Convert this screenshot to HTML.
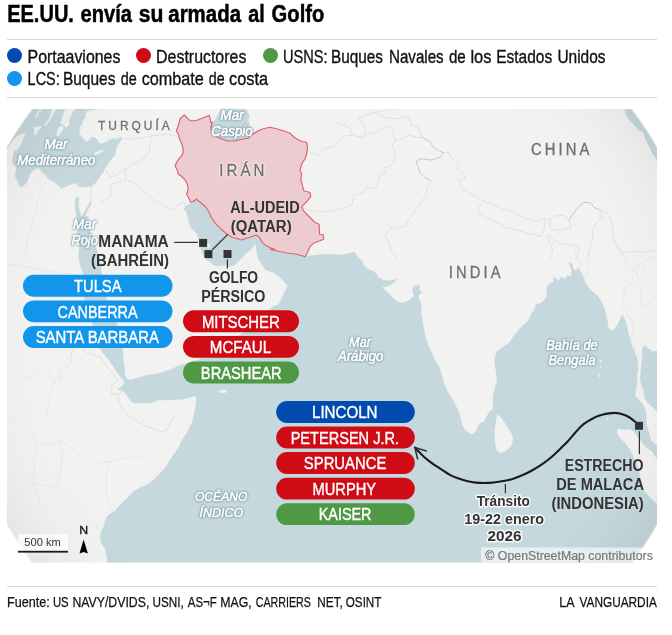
<!DOCTYPE html>
<html lang="es">
<head>
<meta charset="utf-8">
<title>EE.UU. envía su armada al Golfo</title>
<style>
html,body{margin:0;padding:0;background:#fff;}
body{width:672px;height:635px;position:relative;overflow:hidden;font-family:"Liberation Sans",sans-serif;color:#111;}
.hr{position:absolute;left:7px;width:650px;height:1px;background:#d9d9d9;}
.dot{position:absolute;width:15px;height:15px;border-radius:50%;}
svg{position:absolute;left:0;top:0;}
svg text{font-family:"Liberation Sans",sans-serif;}
</style>
</head>
<body>
<div class="hr" style="top:39px"></div>
<div class="dot" style="left:7px;top:48px;background:#004bad"></div><div class="dot" style="left:136.3px;top:48px;background:#cf0b16"></div><div class="dot" style="left:262.7px;top:48px;background:#509944"></div><div class="dot" style="left:7px;top:70.6px;background:#1296eb"></div>
<div class="hr" style="top:97px"></div>
<svg width="672" height="635" viewBox="0 0 672 635" role="img" aria-label="Mapa: EE.UU. envía su armada al Golfo">
<defs>
<clipPath id="mapclip"><rect x="7" y="109" width="650" height="453.5"/></clipPath>
<clipPath id="globe"><circle cx="332" cy="336" r="376"/></clipPath>
<radialGradient id="shade" gradientUnits="userSpaceOnUse" cx="332" cy="336" r="376">
<stop offset="0" stop-color="#000" stop-opacity="0"/>
<stop offset="0.75" stop-color="#000" stop-opacity="0"/>
<stop offset="0.86" stop-color="#000" stop-opacity="0.009"/>
<stop offset="0.94" stop-color="#000" stop-opacity="0.03"/>
<stop offset="1" stop-color="#000" stop-opacity="0.055"/>
</radialGradient>
<radialGradient id="edge" gradientUnits="userSpaceOnUse" cx="332" cy="336" r="376">
<stop offset="0" stop-color="#fff" stop-opacity="0"/>
<stop offset="0.995" stop-color="#fff" stop-opacity="0"/>
<stop offset="1" stop-color="#fff" stop-opacity="0.35"/>
</radialGradient>
<style>
.h1{font-weight:bold;fill:#000;stroke:#000;stroke-width:.5px}
.lg{fill:#111;stroke:#111;stroke-width:.35px}
.ft{fill:#111;stroke:#111;stroke-width:.25px}
.sea{font-style:italic;fill:#fff;stroke:#fff;stroke-width:.7px;filter:drop-shadow(0 0 .6px #5f8390) drop-shadow(0 0 .9px rgba(95,131,144,.9))}
.lbl{font-weight:bold;fill:#333;stroke:#fff;stroke-opacity:.12;stroke-width:1.4px;paint-order:stroke;stroke-linejoin:round}
.tr{font-weight:bold;fill:#333;stroke:#fff;stroke-opacity:.85;stroke-width:3.1px;paint-order:stroke;stroke-linejoin:round}
.pl{fill:#fff;stroke:#fff;stroke-width:.4px}
.cty{fill:#736e6e;stroke:#736e6e;stroke-width:.3px}
</style>
</defs>
<g clip-path="url(#mapclip)"><g clip-path="url(#globe)">
<rect x="0" y="100" width="672" height="470" fill="#f2f2f0"/>
<g fill="#c5d8de" stroke="#c5d8de" stroke-width="0.4" stroke-linejoin="round">
<path d="M5,150 L5,105 L31,105 L98.7,105 L98.7,109 L93.7,109.8 L89.1,110.2 L87,111 L85.3,113.5 L84.5,116 L86.2,116.4 L83.7,118.5 L82.8,121 L82,123.5 L80.8,125.6 L79.1,126.4 L80.3,128.5 L79.1,131 L79.5,133.5 L78.3,135.2 L80.8,135.6 L82.8,137.7 L84.1,140.2 L86.2,141.8 L88.4,140.9 L90.5,137.9 L93,137.1 L95.5,137.9 L97.2,140 L98.4,142.5 L99.7,143.7 L103,143.3 L106.3,141.7 L109.7,140 L113,138.3 L116.3,139.2 L118.8,137.9 L121.8,137.1 L121.3,139.6 L119.3,142.5 L117.2,145.8 L115.9,148.8 L115.5,152.5 L114.7,155.8 L112.2,158.3 L110.1,160.8 L108,163.8 L105.7,167.5 L104,170.8 L102.5,173 L100,176.7 L97,180.8 L94.5,184 L91.6,186.3 L88.7,186.7 L85.3,187.1 L81.2,187.5 L80.3,186.3 L78.7,186.7 L77.8,185 L76.6,183.3 L74.5,182.9 L71.2,184.2 L67.8,185.4 L64.5,187.1 L61.6,187.9 L59.5,186.3 L57,184.2 L54.5,182.1 L52,180.8 L50.7,180 L47.3,178.8 L46.5,175.8 L44,174.2 L41.5,171.7 L40.7,169 L38.2,168.2 L34.8,169.2 L31.9,171.3 L29.8,174.2 L28.6,177.5 L27.3,181.3 L25.3,184.2 L22.8,186.3 L20.7,187.1 L19.4,185.8 L18.6,182.5 L16.5,179.2 L15,175.8 L15.7,172.5 L16.5,169.2 L15.7,165.8 L13.2,164.2 L12.3,160.8 L12.8,157.5 L13.6,153.3 L14.8,150 L16.5,151 L20.7,145.2 L23.2,139.3 L26.1,133.1 L22,133.3 L17.3,135.5 L12,141.5 L8,147.5Z"/>
<path d="M220.8,109 L218.3,114 L215.8,119 L212.5,122.3 L210.8,127.3 L211.7,132.3 L216.7,136.5 L221.7,139 L227.5,141 L235,140.7 L243.3,139 L248.3,138.2 L250,135.7 L253.3,133.2 L252.5,129 L250,125.7 L248.3,120.7 L249.2,115.7 L247.5,112.3 L245.8,109Z"/>
<path d="M624.6,108 L632,105 L660,140 L657,160 L655,157 L652.5,153.2 L649.2,146.5 L645.9,139.8 L643.3,131.8 L638.6,130.2 L634.2,124.8 L629.2,119.8 L626,114.5Z"/>
<path d="M107.5,566 L107.5,561.8 L106.7,556 L105.8,550.2 L103.3,546 L100.8,541.8 L100.3,536 L101.7,531 L104.2,526 L105,521 L106.7,516.8 L110.8,513.5 L114.2,511.8 L118.3,506.8 L123.3,501.8 L128.3,496.8 L133.3,491.8 L138.3,488.5 L145,485.7 L150,482.7 L155,478.5 L160,473.5 L165,467.7 L168.3,462.7 L172.5,456 L178.3,448.3 L180.8,443.3 L183.3,438.3 L186.7,433.3 L189.2,428.3 L191.7,423.3 L193.3,418.3 L194.2,413.3 L195,410 L195.8,405 L196.3,398.3 L195,395.8 L190,397.5 L183.3,399.2 L175,399.7 L165,400 L156.7,400 L156.7,400.8 L151.7,403 L145,402.5 L138.3,403.3 L133.3,403 L130,400 L127.5,395.8 L125,392.5 L122.5,390.8 L117.5,389.2 L121.7,386.7 L124.2,383.3 L123.3,379.2 L120.8,377.5 L116.7,371.7 L112.5,365 L108.3,359.2 L103.3,353.3 L99.2,348 L92.7,324.5 L88,311 L84.4,298.5 L83,286 L83.5,274.2 L80.2,265 L78.5,256.7 L79.3,250 L78.5,240 L77.4,233.3 L77.1,223.3 L76.9,218.3 L76.5,215 L75.7,210.8 L74.9,206.7 L75.3,202.5 L75.9,198 L77.3,196.6 L78.8,197.5 L78.7,201.7 L78.4,205 L79.2,209.2 L80.3,213.3 L81.4,216.4 L81.9,216.6 L90.1,202 L91.4,202.8 L84.6,216.7 L88.2,216.3 L88.6,219.2 L89,223.3 L89.8,229.2 L90.7,233.3 L92.3,235.4 L93.2,238.3 L95.2,245 L97.7,253.3 L100.2,263.3 L101.8,274.2 L104,286 L106.4,298.5 L111.5,311 L117.1,324.5 L122,348 L123,355 L123.7,363.3 L124.7,370 L125,375.8 L126.7,379.2 L131.7,380 L138.3,377.5 L145,375.8 L153.3,374.2 L156.7,374.2 L163.3,371.7 L170,370 L175,367.5 L180,365 L183.3,364.2 L198,360 L222,347 L241,334.3 L257,322 L270,310 L271.7,307.5 L275,305.8 L278.3,305 L280.8,300 L283.3,295 L285.8,290 L287.5,285.8 L283.3,280.8 L278.3,275.8 L273.3,272.5 L265.8,270 L264.7,268.3 L261.3,263.3 L258,258.3 L257.2,253.3 L256.3,248.3 L255.5,243.3 L253.8,245.8 L251.3,249.2 L246.3,253.3 L241.3,258.3 L238,261.7 L234.7,265 L229.7,266.7 L224.7,265.3 L219.7,265.8 L214.7,265.8 L211.3,263.3 L207.2,260 L203.8,255.8 L201.3,250.8 L199.7,245 L198.8,238.3 L196.3,233.3 L193,230 L190.5,226.7 L188.8,221.7 L188,216.7 L186.3,211.7 L183.8,209.2 L186.3,205.8 L189.7,204.2 L193,201.7 L197.2,200 L200.5,202.5 L205.5,206.7 L208.8,211.7 L211.3,217.5 L215.5,223.3 L221.3,229.2 L227.2,234.2 L232.2,237.5 L236.3,238.3 L241.3,240 L246.3,238.3 L251.3,236.7 L256.3,235 L259.7,237.5 L261.3,240.8 L264.7,245 L269.7,247.5 L274.7,249.2 L270,249.2 L278.3,251.3 L286.7,253 L296.7,254.2 L305.3,256.7 L310,255.8 L318.3,255 L326.7,254.2 L331.7,254.2 L338.3,255 L345,254.2 L353.3,252.5 L355,252.5 L357.5,256.7 L361.7,260.8 L364.2,265.8 L368.3,269.2 L372.5,270.8 L375.8,273.3 L378.3,277.5 L383.3,280.3 L390,280.8 L394.2,279.7 L396.7,278.3 L394.2,282.5 L390,285.3 L385,286.7 L381.7,286.3 L385.8,290.8 L390,295 L394.2,299.2 L398.3,302.5 L403.3,303 L408.3,300.8 L411.7,298.3 L414.2,295 L412.5,291.7 L413.3,287.5 L414.2,285.8 L419.7,285.8 L419.2,290 L422.5,292.5 L419.2,294.2 L418.3,297.5 L420.8,302.5 L421.3,308.3 L420.8,313.3 L422.5,320 L423.3,326.7 L425,335 L426.7,341.7 L426.7,340 L428.3,345.8 L431.7,353.3 L435,360 L439.2,367.5 L441.7,375 L444.2,383.3 L446.7,390 L450.8,396.7 L455,404.2 L458.3,410.8 L460.8,418.3 L461.7,424.2 L465,430 L469.2,433.3 L472,434.7 L475.8,431.7 L477.5,427.5 L480,423.3 L484.2,421.7 L486.7,416.7 L489.2,411.7 L492.5,410 L493.3,403.3 L493,396.7 L495,388.3 L497,380 L496.3,373.3 L495,365 L494.7,358.3 L496.7,351.7 L498.3,350.8 L504.2,345.8 L509.2,343.3 L513.3,336.7 L520,328.3 L527.5,321.7 L531.7,313.3 L535,308.3 L535.8,304.2 L540.8,303.3 L545.8,298.3 L547.5,293.3 L546.3,289.2 L548.3,285 L553.3,281.7 L554.2,276.7 L558.3,280.8 L561.7,276.7 L565,279.2 L567.5,275 L570.8,276.7 L571.7,271.7 L570,265 L568.3,262.5 L571.7,263.3 L573.3,268.3 L575.8,270.8 L578.3,267.5 L580.8,271.7 L583.3,276.7 L585,282.5 L588.3,287.5 L592.5,291.7 L597.5,295.8 L600.8,300.8 L603.3,305.8 L605.8,313.3 L607.5,321.7 L608.3,328.3 L610.8,330 L613.3,330.8 L615.8,327.5 L618.3,323.3 L620.8,318.3 L622.5,315 L625,320 L626.7,325 L628.3,333.3 L630.8,341.7 L633.3,350 L635,355.8 L633.3,346 L635,352.7 L637.5,359.3 L638.3,367.7 L636.7,376 L637.5,382.7 L635.8,389.3 L635,396 L637,397.5 L639,400 L641.1,402.5 L643.2,405 L644.4,408.3 L645.7,411.7 L646.5,415.8 L646.1,420 L646.5,425 L647.8,429.2 L649,433.3 L649.8,437.5 L651.5,440.8 L654,443.3 L656.1,445 L660,448 L660,566Z"/>
<path d="M641.7,355.8 L642.5,348.3 L645,345 L648.3,349 L653.3,351.7 L660,350 L660,414 L657,411.7 L654,408.3 L650.7,405.4 L648.2,403.3 L645.8,400 L644.5,397 L643.8,391 L641.7,386 L640,379.3 L640.8,371 L641.7,362.7 L642.5,354.3Z"/>
</g>
<g fill="#f2f2f0" stroke="#f2f2f0" stroke-width="0.4" stroke-linejoin="round">
<path d="M34.4,127.2 L39,126.8 L41.9,126 L40.7,127.7 L38.2,130.2 L36.1,134.3 L34.4,135.2 L34,131Z"/>
<path d="M40.6,108 L42,108 L36,117.7 L35,117.5Z"/>
<path d="M52,108 L57,108 L54,112.5 L52,116 L50.5,119 L48,122.5 L45,126 L44.3,125.3 L47.5,121 L50,117 L51,113.5Z"/>
<path d="M65.3,108 L75.3,108 L72.8,111.8 L71.2,115.2 L69.9,118.5 L68.7,121.8 L69.9,123.9 L67.8,126 L66.2,127.7 L64.5,126 L63.3,124.8 L61.2,123.9 L60.3,122.7 L62,120.2 L62.4,116.8 L63.7,113.5 L64.5,111Z"/>
<path d="M59.9,126.4 L62,126 L63.7,128.1 L62.8,130.6 L61.2,131.8 L59.9,134.3 L58.3,136 L56.6,135.2 L57,132.7 L57.8,130.2 L58.7,127.7Z"/>
<path d="M94.3,153.3 L96.3,152.1 L99.7,150.8 L103.4,150 L102.6,151.7 L99.7,152.9 L97.2,154.2 L95.1,155Z"/>
<path d="M219.2,390.5 L222.5,389.7 L226.7,390.8 L225.8,392.5 L221.7,393 L219.7,392Z"/>
<path d="M497.5,414.8 L500,416.5 L504.2,422.3 L508.3,429 L511.7,434.8 L512.8,439 L511.7,444.8 L508.3,449 L504.2,451.5 L500,452.8 L497,450.7 L495.8,445.7 L495,439 L494.7,433.2 L495.3,427.3 L496.3,420.7Z"/>
<path d="M616.9,430.8 L617.8,434.2 L619.8,437.5 L622.3,440 L624.8,442.5 L626.9,445 L629,448.3 L630.7,450.8 L631.9,452.9 L634,458 L637,464 L639,470 L640.5,477 L642,484 L643.1,489 L648.9,495.9 L654.6,501.6 L660,507 L660,461 L655.5,457 L652,451.8 L649.5,450 L646.5,447.8 L643.4,445 L641,441.7 L638.7,438.4 L636,435 L633.4,431.7 L631.5,430 L628.2,429.3 L624.8,430.3 L621.5,429.6 L618.6,429.2Z"/>
<path d="M206.6,243.8 L208.4,243.4 L209.8,244.6 L210,246.6 L208.8,247.6 L207.2,246.8Z"/>
<path d="M599.95,360 L600.85,360 L600.85,362.6 L599.95,362.6Z"/>
<path d="M600,367 L600.8,367 L600.8,368.4 L600,368.4Z"/>
<path d="M599.05,374 L599.95,374 L599.95,377 L599.05,377Z"/>
<path d="M606.9,418.1 L607.7,418.1 L607.7,419.9 L606.9,419.9Z"/>
<path d="M618.1,428.7 L619.3,428.7 L619.3,429.7 L618.1,429.7Z"/>
</g>
<g fill="none" stroke="#cfcfcd" stroke-width="0.5" stroke-linejoin="round">
<path d="M121.7,138.2 L125,139 L133.3,139 L143.3,137.3 L151.7,135.7 L161.7,134.8 L166.7,134 L173.3,135.7 L177.5,136.5"/>
<path d="M151.7,136.5 L150,144 L149.2,152.3 L143.3,159 L133.3,164 L126.7,168.2 L125,174 L125.8,179.8"/>
<path d="M106.7,170.7 L108.3,175.7 L111.7,177.3 L118.3,174 L126.7,168.2"/>
<path d="M125.8,179.8 L133.3,182.3 L143.3,190.7 L155,200.7 L166.7,207.3 L173.3,209.8"/>
<path d="M125.8,179.8 L116.7,182.3 L110,184.8 L112.5,192.3 L108.3,199 L100,202.3"/>
<path d="M173.3,209.8 L178.3,204 L183.3,202.3 L186.7,204"/>
<path d="M336,145 L343.5,136.2 L352.2,135 L351,128.8 L343.5,125 L336,122.5"/>
<path d="M352.2,135 L362.2,137.5 L368.5,133.8 L376,132.5 L383.5,127.5 L389.8,126.2 L393.5,132.5 L394.8,140 L401,138.8 L408.5,135 L418.5,137.5 L422.2,137.5"/>
<path d="M396,109 L386,110 L373.5,112.5 L366,115 L358.5,117.5 L363.5,125 L366,132.5 L362.2,137.5"/>
<path d="M373.5,112.5 L386,117.5 L396,118.8 L408.5,116.2 L411,125 L418.5,127.5 L422.2,137.5"/>
<path d="M394.8,140 L392.2,146.2 L396,153.8 L393.5,162.5 L391,166.2 L383.5,167.5 L386,172.5 L379.8,175 L377.2,185 L374.8,188.8 L366,187.5 L363.5,192.5 L353.5,195 L352.2,205 L343.5,208.8 L336,210"/>
<path d="M422.2,137.5 L429.8,141.2 L433.5,147.5 L439.8,151.2 L443.5,152.5 L439.8,157.5 L431,160 L421,158.8 L416,161.2 L418.5,167.5 L419.8,172.5 L424.8,177.5 L431,181.2" stroke="#b4b4b2" stroke-width="0.7"/>
<path d="M431,181.2 L427.2,187.5 L426,195 L421,202.5 L417.2,207.5 L413.5,213.8 L408.5,220 L404.8,226.2 L396,228.8 L392.2,226.2 L384.8,236.2 L388.5,242.5 L391,250 L397.2,258.8"/>
<path d="M443.5,152.5 L448.5,152.5 L452.2,158.8 L458.5,162.5 L457.2,168.8 L464.8,175 L464.8,178.8 L458.5,180 L461,186.2 L463.5,190 L471,193.8 L477.2,197.5 L483.5,201.2 L493.5,205 L503.8,210"/>
<path d="M483.5,201.2 L478.5,207.5 L478.5,213.8 L486,217.5 L496,222.5 L503.8,225"/>
<path d="M504,208.8 L514,212.5 L524,217.5 L536.5,221.2 L544,218.8 L550.2,220"/>
<path d="M504,227.5 L516.5,230 L529,233.8 L541.5,236.2 L544,230 L545.2,220"/>
<path d="M550.2,220 L554,216.2 L564,215 L569,220 L571.5,227.5 L561.5,230 L551.5,230 L550.2,225 L550.2,220"/>
<path d="M569,220 L574,212.5 L579,206.2 L584,202.5 L590.2,202.5 L594,207.5 L600.2,210" stroke="#b4b4b2" stroke-width="0.7"/>
<path d="M600.2,210 L601.5,217.5 L596.5,222.5 L592.8,230 L592.8,240 L589,250 L587.8,258.8"/>
<path d="M600.2,210 L606.5,212.5 L611.5,220 L612.8,230 L614,240 L619,250 L624,252.5 L634,251.2 L644,252.5 L651.5,250 L656.5,252.5"/>
<path d="M547.8,235 L554,240 L561.5,243.8 L574,245 L579,247.5 L577.8,255 L576.5,258.8"/>
<path d="M547.8,235 L549,242.5 L552.8,250 L550.2,258.8"/>
<path d="M44.8,181.7 L41,192 L37.3,203 L32,225 L25,250 L20,259" stroke="#d0d0ce" stroke-width="0.5" stroke-dasharray="1.6 1"/>
<path d="M7.5,264 L25,266.5 L50,271.5 L72.5,274" stroke="#d0d0ce" stroke-width="0.5" stroke-dasharray="1.6 1"/>
<path d="M72.5,351.5 L60,369 L53.8,384 L50,394 L47.5,409 L46.2,418" stroke="#d0d0ce" stroke-width="0.5" stroke-dasharray="1.6 1"/>
<path d="M25,379 L35,376.5 L42.5,366.5 L48.8,371.5 L53.8,384" stroke="#d0d0ce" stroke-width="0.5" stroke-dasharray="1.6 1"/>
<path d="M10,418 L20,425.5 L32.5,435.5 L37.5,443 L50,445.5 L60,440.5 L67.5,445.5 L80,454.2 L95,463 L110,461.8 L125,458 L140,456.8 L155,443 L167.8,430.5" stroke="#d0d0ce" stroke-width="0.5" stroke-dasharray="1.6 1"/>
<path d="M60,440.5 L62.5,453 L61.2,468 L57.5,480.5 L58.8,488" stroke="#d0d0ce" stroke-width="0.5" stroke-dasharray="1.6 1"/>
<path d="M37.5,443 L33.8,458 L35,473 L32.5,483 L37.5,493 L40,503" stroke="#d0d0ce" stroke-width="0.5" stroke-dasharray="1.6 1"/>
<path d="M110,461.8 L106.2,473 L106.2,493 L110,505.5 L113.8,513" stroke="#d0d0ce" stroke-width="0.5" stroke-dasharray="1.6 1"/>
<path d="M32.5,483 L58.8,488 L75,503 L87.5,518 L100,530.5" stroke="#d0d0ce" stroke-width="0.5" stroke-dasharray="1.6 1"/>
<path d="M574.2,250 L576.7,256.7 L575,260 L579.2,261.7 L580.8,266.7" stroke="#d0d0ce" stroke-width="0.5" stroke-dasharray="1.6 1"/>
<path d="M588.3,254.2 L586.7,260 L589.2,266.7 L587.5,273.3 L585,282.5" stroke="#d0d0ce" stroke-width="0.5" stroke-dasharray="1.6 1"/>
<path d="M620,250 L623.3,256.7 L625.8,263.3 L628.3,266.7 L633.3,268.3 L635.8,271.7 L638.3,265 L643.3,261.7 L648.3,258.3 L657,255" stroke="#d0d0ce" stroke-width="0.5" stroke-dasharray="1.6 1"/>
<path d="M633.3,268.3 L631.7,275 L633.3,281.7 L630,285 L625,288.3 L623.3,295 L624.2,301.7 L621.7,303.3 L624.2,308.3 L626.7,313.3 L630,318.3 L632.5,323.3 L633.3,330 L630.8,336.7 L633.3,343.3 L636.7,350 L638.3,355.8" stroke="#d0d0ce" stroke-width="0.5" stroke-dasharray="1.6 1"/>
<path d="M635.8,271.7 L638.3,278.3 L636.7,283.3 L640,288.3 L641.7,293.3 L640.8,300 L643.3,306.7 L648.3,303.3 L653.3,298.3 L657,296.7" stroke="#d0d0ce" stroke-width="0.5" stroke-dasharray="1.6 1"/>
<path d="M643.3,266.7 L646.7,273.3 L653.3,276.7 L657,283.3" stroke="#d0d0ce" stroke-width="0.5" stroke-dasharray="1.6 1"/>
<path d="M241.3,258.3 L248,261.7 L249.7,268.3 L246.3,276.7 L243,283.3 L246.3,290 L248,296.7" stroke="#d0d0ce" stroke-width="0.5" stroke-dasharray="1.6 1"/>
<path d="M173,211.7 L178,206.7 L183.8,202.5 L186.3,205.8" stroke="#d0d0ce" stroke-width="0.5" stroke-dasharray="1.6 1"/>
<path d="M307.7,151.5 L310,152 L312.5,152.8 L316.5,155.5 L320,154 L323,150.3 L324.2,148.6 L328,148 L332,147 L336,145"/>
<path d="M91.6,186.3 L91.2,192 L90.6,198 L90.3,202"/>
<path d="M301.7,206.7 L308.3,210 L318.3,211.7 L330,211.7 L336.7,210.3"/>
<path d="M72.5,348 L70,363.3 L61.7,371.7 L60,380"/>
<path d="M82.5,350 L88.3,353.3 L100,356.7 L108.3,368.3 L116.7,378.3 L118.3,380 L111.7,385 L111.7,394.2 L118.3,394.2 L122.5,390.8"/>
<path d="M118.3,394.2 L118.3,400 L123.3,410 L131.7,418.3 L146.7,426.7 L161.7,431.7 L166.7,430 L171.8,420 L176.7,413.3"/>
</g>
<path d="M184.2,114.8 L186.7,117.3 L190,120.7 L195.8,120.7 L200,119 L205,117.3 L209.2,115.3 L210,118.2 L210.8,122.3 L212.5,122.3 L210.8,127.3 L211.7,132.3 L216.7,136.5 L221.7,139 L227.5,141 L235,140.7 L243.3,139 L248.3,138.2 L250,135.7 L253.3,134 L258.3,130.7 L263.3,128.7 L270,127.3 L276.7,128.7 L283.3,130.7 L290,133.2 L293.3,136.5 L296.7,139 L301.7,141.5 L306.7,142.3 L307.5,147.3 L306.7,154 L305,159 L301.7,164 L300,170.7 L301.7,174 L300.8,179 L302.5,185.7 L303.7,190.7 L310,192.5 L310.8,196.7 L306.7,201.7 L301.7,206.7 L304.2,211.7 L310,217.5 L315,222.5 L319.2,224.2 L319.5,234.2 L323.3,234.7 L323.7,239.2 L320,240.8 L313.3,243.3 L310,246.7 L307.5,252.5 L305.3,256.7 L296.7,254.2 L286.7,253 L278.3,251.3 L270,249.2 L274.7,249.2 L269.7,247.5 L264.7,245 L261.3,240.8 L259.7,237.5 L256.3,235 L251.3,236.7 L246.3,238.3 L241.3,240 L236.3,238.3 L232.2,237.5 L227.2,234.2 L221.3,229.2 L215.5,223.3 L211.3,217.5 L208.8,211.7 L205.5,206.7 L200.5,202.5 L197.2,200 L196.7,199 L193.3,201.5 L190.8,202.3 L188.3,197.3 L186.7,194 L188.3,189 L187.5,184.8 L185,179.8 L181.7,176.5 L178.3,174 L177.5,170.7 L175,165.7 L177.5,160.7 L181.7,155.7 L183.3,152.3 L182.5,145.7 L179.7,139 L178.3,134 L176.3,130.7 L178.3,125.7 L180,119Z" fill="#ecccd0" stroke="#dc606e" stroke-width="1.15" stroke-linejoin="round"/>
<rect x="0" y="100" width="672" height="470" fill="url(#shade)"/>
<rect x="0" y="100" width="672" height="470" fill="url(#edge)"/>
</g>
<rect x="481" y="547.5" width="176" height="16" fill="#fff" fill-opacity="0.6"/>
<text x="485.3" y="560" font-size="12" fill="#787878" stroke="#787878" stroke-width=".2" textLength="167.5" lengthAdjust="spacingAndGlyphs">© OpenStreetMap contributors</text>
<rect x="18" y="534" width="50" height="17" fill="#fff" fill-opacity="0.7"/>
<rect x="18" y="550.8" width="50" height="1.8" fill="#1a1a1a"/>
<text x="24.3" y="546.3" font-size="11.5" fill="#333" textLength="36.5" lengthAdjust="spacingAndGlyphs">500 km</text>
<text x="79.2" y="534.1" font-size="11.6" fill="#111" stroke="#111" stroke-width=".3" textLength="8.9" lengthAdjust="spacingAndGlyphs">N</text>
<path d="M83.6,539.6 L87.9,553.6 L83.7,552 L79.5,553.6Z" fill="#000"/>
</g>
<text class="cty" transform="translate(98,129.9) scale(0.92,1)" font-size="13" textLength="78.0" lengthAdjust="spacing">TURQUÍA</text>
<text class="cty" transform="translate(219.3,176) scale(0.93,1)" font-size="16.2" textLength="48.6" lengthAdjust="spacing" style="stroke-width:.4px;filter:drop-shadow(0 0 .5px #fff) drop-shadow(0 0 .7px #fff) drop-shadow(0 0 1px #fff)">IRÁN</text>
<text class="cty" transform="translate(531.1,155) scale(0.92,1)" font-size="16.1" textLength="63.3" lengthAdjust="spacing">CHINA</text>
<text class="cty" transform="translate(448.8,277.9) scale(0.92,1)" font-size="16" textLength="56.2" lengthAdjust="spacing">INDIA</text>
<text class="sea" x="44.39" y="149.1" font-size="14" textLength="23.25" lengthAdjust="spacingAndGlyphs">Mar</text>
<text class="sea" x="17.29" y="164.8" font-size="14" textLength="78.16" lengthAdjust="spacingAndGlyphs">Mediterráneo</text>
<text class="sea" x="220.55" y="119.8" font-size="14" textLength="23.18" lengthAdjust="spacingAndGlyphs">Mar</text>
<text class="sea" x="211.24" y="135.7" font-size="14" textLength="41.4" lengthAdjust="spacingAndGlyphs">Caspio</text>
<text class="sea" x="73.08" y="229.3" font-size="14" textLength="23.11" lengthAdjust="spacingAndGlyphs">Mar</text>
<text class="sea" x="71.56" y="245" font-size="14" textLength="26.16" lengthAdjust="spacingAndGlyphs">Rojo</text>
<text class="sea" x="349.11" y="347" font-size="14" textLength="21.81" lengthAdjust="spacingAndGlyphs">Mar</text>
<text class="sea" x="337.93" y="361.4" font-size="14" textLength="45.44" lengthAdjust="spacingAndGlyphs">Arábigo</text>
<text class="sea" x="546.31" y="350" font-size="14" textLength="51.37" lengthAdjust="spacingAndGlyphs">Bahía de</text>
<text class="sea" x="548.58" y="365" font-size="14" textLength="47.03" lengthAdjust="spacingAndGlyphs">Bengala</text>
<text class="sea" x="194.88" y="500.8" font-size="13.4" textLength="52.62" lengthAdjust="spacingAndGlyphs">OCÉANO</text>
<text class="sea" x="199.41" y="516.5" font-size="13.4" textLength="43.76" lengthAdjust="spacingAndGlyphs">ÍNDICO</text>
<g stroke="#1a1a1a" fill="none" stroke-width="2.1" stroke-linecap="round" stroke-linejoin="round">
<path d="M414.9,447.6 C416.4,449.1 421.4,454.5 423.9,456.8 C426.4,459.1 427.8,460.1 429.8,461.6 C431.8,463.1 433.8,464.5 435.8,465.8 C437.8,467.1 439.5,468.2 441.7,469.6 C443.9,471.0 446.2,472.9 448.9,474.3 C451.6,475.8 454.9,477.2 457.9,478.3 C460.9,479.4 463.8,480.3 466.8,481 C469.8,481.7 472.7,482.3 475.7,482.6 C478.7,482.9 481.6,483.0 484.6,483 C487.6,483.0 490.2,482.9 493.6,482.5 C497.0,482.1 501.6,481.5 505,480.8 C508.4,480.1 510.9,479.4 514,478.4 C517.0,477.4 520.3,476.1 523.3,474.8 C526.3,473.5 529.2,472.0 532,470.5 C534.8,469.0 537.2,467.5 540,465.7 C542.8,463.9 545.7,461.7 548.5,459.5 C551.3,457.3 554.4,454.4 556.7,452.3 C559.0,450.2 560.6,448.5 562.5,446.6 C564.4,444.7 566.2,443.0 568.3,440.7 C570.4,438.4 572.8,435.5 575,433 C577.2,430.5 579.6,427.6 581.7,425.7 C583.8,423.8 585.6,422.8 587.5,421.5 C589.4,420.2 591.5,419.1 593.3,418.2 C595.0,417.3 596.4,416.6 598,416 C599.6,415.4 601.2,414.9 603,414.5 C604.8,414.1 607.0,413.7 609,413.4 C611.0,413.1 612.8,412.8 614.8,412.9 C616.8,412.9 618.8,413.2 620.7,413.7 C622.7,414.2 624.7,414.9 626.5,415.8 C628.3,416.7 630.0,417.7 631.5,418.8 C633.0,419.9 635.0,421.7 635.7,422.3"/>
<path d="M426.4,450.9 L414.9,447.6 L417.6,458.8" stroke="#333" stroke-width="1.6"/>
</g>
<g stroke="#333333" stroke-width="1.25" fill="none">
<path d="M174.2,242.4 L197.8,242.4"/><path d="M212.3,249.7 L227.8,234.4"/><path d="M227.4,259.3 L227.4,268.5"/><path d="M639.4,431.2 L639.4,454.2"/><path d="M505.4,483.8 L505.4,493.2"/>
</g>
<g fill="#333333">
<rect x="199.1" y="238.9" width="8" height="8"/><rect x="204.4" y="250.1" width="8" height="8"/><rect x="223.5" y="250" width="8" height="8"/><rect x="635" y="421.8" width="8" height="8"/></g>
<text class="lbl" x="98.34" y="247" font-size="16.8" textLength="70.41" lengthAdjust="spacingAndGlyphs">MANAMA</text>
<text class="lbl" x="90.99" y="265.5" font-size="16.8" textLength="77.9" lengthAdjust="spacingAndGlyphs">(BAHRÉIN)</text>
<text class="lbl" x="230.35" y="212.8" font-size="16.8" textLength="69.28" lengthAdjust="spacingAndGlyphs">AL-UDEID</text>
<text class="lbl" x="230.69" y="231.7" font-size="16.8" textLength="60.94" lengthAdjust="spacingAndGlyphs">(QATAR)</text>
<text class="lbl" x="208.88" y="283" font-size="16.8" textLength="49.29" lengthAdjust="spacingAndGlyphs">GOLFO</text>
<text class="lbl" x="201.16" y="301.6" font-size="16.8" textLength="64.3" lengthAdjust="spacingAndGlyphs">PÉRSICO</text>
<text class="lbl" x="564.7" y="470.8" font-size="16.8" textLength="78.78" lengthAdjust="spacingAndGlyphs">ESTRECHO</text>
<text class="lbl" x="556.28" y="489.6" font-size="16.8" textLength="87.71" lengthAdjust="spacingAndGlyphs">DE MALACA</text>
<text class="lbl" x="551.46" y="508.5" font-size="16.8" textLength="92.22" lengthAdjust="spacingAndGlyphs">(INDONESIA)</text>
<text class="tr" x="476.7" y="505.6" font-size="15.2" textLength="53.17" lengthAdjust="spacingAndGlyphs">Tránsito</text>
<text class="tr" x="464.32" y="523.6" font-size="15.2" textLength="79.81" lengthAdjust="spacingAndGlyphs">19-22 enero</text>
<text class="tr" x="487.58" y="541.3" font-size="15.2" textLength="34.05" lengthAdjust="spacingAndGlyphs">2026</text>
<rect x="23" y="274.8" width="149.5" height="21.9" rx="10.95" ry="10.95" fill="#1296eb"/>
<rect x="23" y="300.4" width="149.5" height="21.9" rx="10.95" ry="10.95" fill="#1296eb"/>
<rect x="23" y="326.0" width="149.5" height="21.9" rx="10.95" ry="10.95" fill="#1296eb"/>
<rect x="183" y="310.3" width="116" height="21.9" rx="10.95" ry="10.95" fill="#cf0b16"/>
<rect x="183" y="335.9" width="116" height="21.9" rx="10.95" ry="10.95" fill="#cf0b16"/>
<rect x="183" y="361.6" width="116" height="21.9" rx="10.95" ry="10.95" fill="#509944"/>
<rect x="276.2" y="401" width="138.6" height="21.9" rx="10.95" ry="10.95" fill="#004bad"/>
<rect x="276.2" y="426.5" width="138.6" height="21.9" rx="10.95" ry="10.95" fill="#cf0b16"/>
<rect x="276.2" y="452.1" width="138.6" height="21.9" rx="10.95" ry="10.95" fill="#cf0b16"/>
<rect x="276.2" y="477.7" width="138.6" height="21.9" rx="10.95" ry="10.95" fill="#cf0b16"/>
<rect x="276.2" y="503.2" width="138.6" height="21.9" rx="10.95" ry="10.95" fill="#509944"/>
<text class="pl" x="74.11" y="292" font-size="17" textLength="47.31" lengthAdjust="spacingAndGlyphs">TULSA</text>
<text class="pl" x="57.59" y="317.6" font-size="17" textLength="79.95" lengthAdjust="spacingAndGlyphs">CANBERRA</text>
<text class="pl" x="35.63" y="343.2" font-size="17" textLength="123.39" lengthAdjust="spacingAndGlyphs">SANTA BARBARA</text>
<text class="pl" x="201.91" y="327.6" font-size="17" textLength="77.95" lengthAdjust="spacingAndGlyphs">MITSCHER</text>
<text class="pl" x="209.86" y="353.2" font-size="17" textLength="61.24" lengthAdjust="spacingAndGlyphs">MCFAUL</text>
<text class="pl" x="200.85" y="378.8" font-size="17" textLength="80.79" lengthAdjust="spacingAndGlyphs">BRASHEAR</text>
<text class="pl" x="311.97" y="418" font-size="17" textLength="65.58" lengthAdjust="spacingAndGlyphs">LINCOLN</text>
<text class="pl" x="290.64" y="443.6" font-size="17" textLength="108.42" lengthAdjust="spacingAndGlyphs">PETERSEN J.R.</text>
<text class="pl" x="303.85" y="469.2" font-size="17" textLength="82.43" lengthAdjust="spacingAndGlyphs">SPRUANCE</text>
<text class="pl" x="312.43" y="494.8" font-size="17" textLength="63.68" lengthAdjust="spacingAndGlyphs">MURPHY</text>
<text class="pl" x="318.74" y="520.3" font-size="17" textLength="52.78" lengthAdjust="spacingAndGlyphs">KAISER</text>
<text class="h1" x="7.17" y="21.8" font-size="24.7" textLength="66.75" lengthAdjust="spacingAndGlyphs">EE.UU.</text>
<text class="h1" x="80.55" y="21.8" font-size="24.7" textLength="51.39" lengthAdjust="spacingAndGlyphs">envía</text>
<text class="h1" x="138.65" y="21.8" font-size="24.7" textLength="24.65" lengthAdjust="spacingAndGlyphs">su</text>
<text class="h1" x="168.3" y="21.8" font-size="24.7" textLength="72.71" lengthAdjust="spacingAndGlyphs">armada</text>
<text class="h1" x="248.34" y="21.8" font-size="24.7" textLength="16.47" lengthAdjust="spacingAndGlyphs">al</text>
<text class="h1" x="271.61" y="21.8" font-size="24.7" textLength="52.68" lengthAdjust="spacingAndGlyphs">Golfo</text>
<text class="lg" x="27.6" y="63.0" font-size="18.1" textLength="92.79" lengthAdjust="spacingAndGlyphs">Portaaviones</text>
<text class="lg" x="156.08" y="63.0" font-size="18.1" textLength="90.29" lengthAdjust="spacingAndGlyphs">Destructores</text>
<text class="lg" x="283.01" y="63.0" font-size="18.1" textLength="44.56" lengthAdjust="spacingAndGlyphs">USNS:</text>
<text class="lg" x="331.05" y="63.0" font-size="18.1" textLength="51.98" lengthAdjust="spacingAndGlyphs">Buques</text>
<text class="lg" x="389.02" y="63.0" font-size="18.1" textLength="54.68" lengthAdjust="spacingAndGlyphs">Navales</text>
<text class="lg" x="448.91" y="63.0" font-size="18.1" textLength="16.84" lengthAdjust="spacingAndGlyphs">de</text>
<text class="lg" x="470.43" y="63.0" font-size="18.1" textLength="21.08" lengthAdjust="spacingAndGlyphs">los</text>
<text class="lg" x="496.18" y="63.0" font-size="18.1" textLength="55.96" lengthAdjust="spacingAndGlyphs">Estados</text>
<text class="lg" x="557.4" y="63.0" font-size="18.1" textLength="48.18" lengthAdjust="spacingAndGlyphs">Unidos</text>
<text class="lg" x="27.62" y="84.7" font-size="18.1" textLength="32.07" lengthAdjust="spacingAndGlyphs">LCS:</text>
<text class="lg" x="62.91" y="84.7" font-size="18.1" textLength="52.53" lengthAdjust="spacingAndGlyphs">Buques</text>
<text class="lg" x="120.67" y="84.7" font-size="18.1" textLength="15.98" lengthAdjust="spacingAndGlyphs">de</text>
<text class="lg" x="141.67" y="84.7" font-size="18.1" textLength="62.19" lengthAdjust="spacingAndGlyphs">combate</text>
<text class="lg" x="208.81" y="84.7" font-size="18.1" textLength="15.82" lengthAdjust="spacingAndGlyphs">de</text>
<text class="lg" x="229.03" y="84.7" font-size="18.1" textLength="39.05" lengthAdjust="spacingAndGlyphs">costa</text>
<text class="ft" x="7.02" y="606.8" font-size="15" textLength="42.74" lengthAdjust="spacingAndGlyphs">Fuente:</text>
<text class="ft" x="52.93" y="606.8" font-size="15" textLength="15.78" lengthAdjust="spacingAndGlyphs">US</text>
<text class="ft" x="72.43" y="606.8" font-size="15" textLength="76.91" lengthAdjust="spacingAndGlyphs">NAVY/DVIDS,</text>
<text class="ft" x="152.53" y="606.8" font-size="15" textLength="31.26" lengthAdjust="spacingAndGlyphs">USNI,</text>
<text class="ft" x="187.75" y="606.8" font-size="15" textLength="29.02" lengthAdjust="spacingAndGlyphs">AS¬F</text>
<text class="ft" x="220.26" y="606.8" font-size="15" textLength="31.48" lengthAdjust="spacingAndGlyphs">MAG,</text>
<text class="ft" x="255.69" y="606.8" font-size="15" textLength="55.26" lengthAdjust="spacingAndGlyphs">CARRIERS</text>
<text class="ft" x="317.35" y="606.8" font-size="15" textLength="25.45" lengthAdjust="spacingAndGlyphs">NET,</text>
<text class="ft" x="345.78" y="606.8" font-size="15" textLength="35.66" lengthAdjust="spacingAndGlyphs">OSINT</text>
<text class="ft" x="559.35" y="606.8" font-size="15" textLength="15.37" lengthAdjust="spacingAndGlyphs">LA</text>
<text class="ft" x="579.54" y="606.8" font-size="15" textLength="77.27" lengthAdjust="spacingAndGlyphs">VANGUARDIA</text>
</svg>
<div class="hr" style="top:586px"></div>
</body>
</html>
